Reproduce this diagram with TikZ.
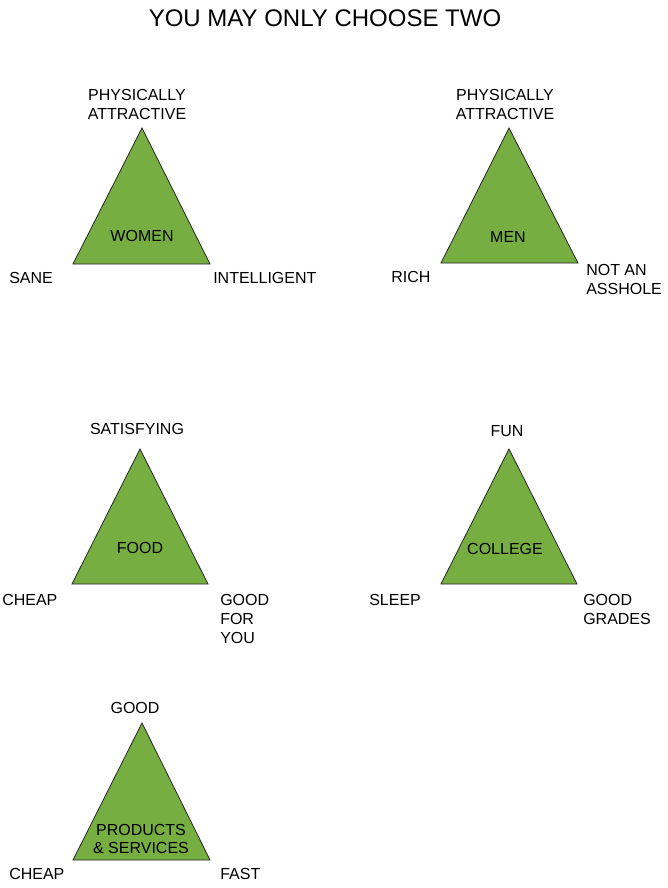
\documentclass[tikz,border=0pt]{standalone}
\usepackage{fontspec}
\setmainfont{Liberation Sans}
\usepackage{tikz}
\usetikzlibrary{positioning}
\definecolor{trigreen}{RGB}{119,174,66}

\tikzset{
  lbl/.style={inner sep=0pt,align=left,yshift=-0.75pt,font=\fontsize{12}{14}\selectfont},
  ctr/.style={lbl,align=center},
  tri/.style={fill=trigreen,draw=black!85,line width=0.6pt,line join=miter}
}

\begin{document}
\begin{tikzpicture}[x=0.75pt,y=-0.75pt]
  \useasboundingbox (0,0) rectangle (667,888);
  \node[inner sep=0pt,font=\fontsize{18}{20}\selectfont] (title) at (325,18) {YOU MAY ONLY CHOOSE TWO};

  % women
  \coordinate (wtop) at (142,128);
  \coordinate (wleft) at (73,264);
  \coordinate (wright) at (210,264);
  \draw[tri] (wtop) -- (wleft) -- (wright) -- cycle;
  \node[ctr] (women) at (142,235) {WOMEN};
  \node[ctr] (wattr) at (137,103.5) {PHYSICALLY\\ATTRACTIVE};
  \node[lbl,anchor=west] (wsane) at (9,277) {SANE};
  \node[lbl,anchor=west] (wintel) at (213,277) {INTELLIGENT};

  % men
  \coordinate (mtop) at (509,128);
  \coordinate (mleft) at (441,263);
  \coordinate (mright) at (578,263);
  \draw[tri] (mtop) -- (mleft) -- (mright) -- cycle;
  \node[ctr] (men) at (508,236) {MEN};
  \node[ctr] (mattr) at (505,103.5) {PHYSICALLY\\ATTRACTIVE};
  \node[lbl,anchor=west] (mrich) at (391,276) {RICH};
  \node[lbl,anchor=west] (mnice) at (586,278.5) {NOT AN\\ASSHOLE};

  % food
  \coordinate (ftop) at (140,449);
  \coordinate (fleft) at (72,584);
  \coordinate (fright) at (208,584);
  \draw[tri] (ftop) -- (fleft) -- (fright) -- cycle;
  \node[ctr] (food) at (140,547) {FOOD};
  \node[ctr] (fsat) at (137,428) {SATISFYING};
  \node[lbl,anchor=west] (fcheap) at (2,599) {CHEAP};
  \node[lbl,anchor=west] (fgood) at (220,618) {GOOD\\FOR\\YOU};

  % college
  \coordinate (ctop) at (509,449);
  \coordinate (cleft) at (441,584);
  \coordinate (cright) at (577,584);
  \draw[tri] (ctop) -- (cleft) -- (cright) -- cycle;
  \node[ctr] (college) at (505,548) {COLLEGE};
  \node[ctr] (cfun) at (507,430) {FUN};
  \node[lbl,anchor=west] (csleep) at (369,599) {SLEEP};
  \node[lbl,anchor=west] (cgrades) at (583,608.5) {GOOD\\GRADES};

  % products and services
  \coordinate (ptop) at (142,723);
  \coordinate (pleft) at (73,860);
  \coordinate (pright) at (210,860);
  \draw[tri] (ptop) -- (pleft) -- (pright) -- cycle;
  \node[ctr] (prod) at (141,838) {PRODUCTS\\\& SERVICES};
  \node[ctr] (pgood) at (135,707) {GOOD};
  \node[lbl,anchor=west] (pcheap) at (9,873) {CHEAP};
  \node[lbl,anchor=west] (pfast) at (220,873) {FAST};
\end{tikzpicture}
\end{document}
